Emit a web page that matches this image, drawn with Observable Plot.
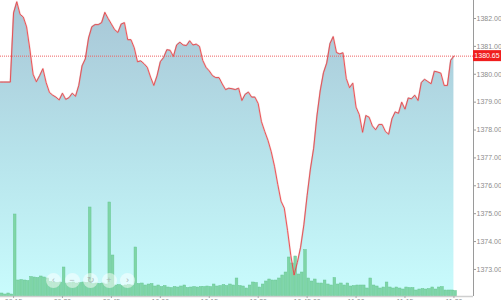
<!DOCTYPE html>
<html><head><meta charset="utf-8">
<script src="https://cdn.jsdelivr.net/npm/d3@7"></script>
<script src="https://cdn.jsdelivr.net/npm/@observablehq/plot@0.6"></script>
<style>
body{margin:0;background:#fff;overflow:hidden;font-family:"Liberation Sans",Arial,sans-serif}
#chart{position:relative;width:501px;height:300px;overflow:hidden}
#nav{position:absolute;left:46px;top:273px;display:flex;gap:3.5px}
#nav span{width:15px;height:15px;border-radius:50%;background:rgba(255,255,255,0.5);color:#a5b5b5;font-size:9px;line-height:15px;text-align:center}
</style>
</head><body><div id="chart"><div id="nav"></div></div>
<script>
// ---- data ----
const startTime = "09:11";
const endTime = "11:36";
const prices = [
1379.72,1379.72,1379.72,1379.72,
1382.2,1382.6,1382.15,1382.05,1381.7,1380.9,1380.0,1379.73,1379.95,1380.2,
1379.7,1379.35,1379.25,1379.18,1379.08,1379.32,1379.1,1379.16,1379.32,1379.21,
1379.6,1380.3,1380.55,1381.3,1381.7,1381.78,1381.78,1381.85,1382.22,1382.0,
1381.8,1381.6,1381.5,1381.8,1381.85,1381.24,1381.24,1380.95,1380.45,1380.48,
1380.38,1380.25,1379.9,1379.6,1379.95,1380.45,1380.6,1380.88,1380.86,1380.64,
1381.05,1381.15,1381.05,1381.03,1381.2,1381.05,1381.08,1381.0,1380.5,1380.25,
1380.12,1379.95,1379.88,1379.88,1379.65,1379.45,1379.5,1379.48,1379.45,1379.5,
1379.06,1379.28,1379.36,1379.18,1379.18,1378.95,1378.3,1377.95,1377.63,1377.22,
1376.7,1376.05,1375.45,1375.2,1374.4,1373.5,1372.8,1373.25,1373.8,1374.6,
1375.65,1376.6,1377.35,1378.5,1379.4,1380.05,1380.4,1381.1,1381.35,1380.78,
1380.73,1380.77,1379.85,1379.52,1379.68,1378.82,1378.55,1377.92,1378.52,1378.46,
1378.15,1378.01,1378.2,1378.2,1377.95,1377.85,1378.4,1378.65,1378.6,1379.0,
1378.75,1379.15,1379.12,1379.25,1379.06,1379.7,1379.82,1379.74,1379.66,1380.11,
1380.08,1380.04,1379.6,1379.6,1380.5,1380.65
];
const volumes = [
30,20,30,20,
820,160,165,160,155,195,190,185,200,190,180,
145,140,135,140,290,130,135,140,130,135,140,135,
890,125,130,125,130,120,940,410,110,115,105,110,115,110,
490,125,130,110,120,125,100,110,95,105,
90,85,95,90,100,110,85,90,95,90,95,95,100,95,
120,100,105,115,105,120,110,180,
105,100,80,110,140,135,90,120,150,170,160,160,180,210,240,
390,330,400,220,240,465,
180,150,170,130,130,160,120,110,
185,120,130,110,130,100,105,110,110,110,80,180,
110,100,80,90,140,90,80,90,80,70,90,85,85,60,70,75,70,75,90,70,90,95,60,60,60,55
];
const xTickTimes = ["09:15","09:30","09:45","10:00","10:15","10:30","10:45","11:00","11:15","11:30"];
const xTickLabels = ["09:15","09:30","09:45","10:00","10:15","10:30","10:45:00","11:00","11:15","11:30"];
const yTicks = [1373,1374,1375,1376,1377,1378,1379,1380,1381,1382];
const priceDomain = [1372.03, 1382.645];
const volumeAxisMax = 2960;
const lastPrice = 1380.65;
const navButtons = ["\u2039","\u2212","\u21BB","+","\u203A"];

// ---- build ----
const parse = s => { const [h, m] = s.split(":").map(Number); return new Date(Date.UTC(2020, 0, 6, h, m)); };
const t0 = parse(startTime);
const data = prices.map((p, i) => ({t: new Date(+t0 + i * 60000), t2: new Date(+t0 + (i + 1) * 60000), price: p, vol: volumes[i]}));
const xDomain = [parse(startTime), parse(endTime)];
const yLo = priceDomain[0];
const k = (priceDomain[1] - priceDomain[0]) / volumeAxisMax;
const labelOf = new Map(xTickTimes.map((s, i) => [+parse(s), xTickLabels[i]]));

const chart = Plot.plot({
  width: 501, height: 300,
  marginLeft: 0, marginRight: 28, marginTop: 0, marginBottom: 4,
  style: {fontFamily: "'Liberation Sans', Arial, sans-serif", fontSize: "7px", color: "#8c8c8c", background: "transparent", overflow: "visible"},
  x: {type: "utc", domain: xDomain, label: null},
  y: {domain: priceDomain, label: null},
  marks: [
    Plot.areaY(data, {x: "t", y1: yLo, y2: "price", fill: "url(#pxgrad)"}),
    Plot.rect(data, {x1: "t", x2: "t2", y1: yLo, y2: d => yLo + d.vol * k, fill: "#7fd5a7", stroke: "#68c794", strokeWidth: 0.5, insetLeft: 0.3, insetRight: 0.3}),
    Plot.ruleY([lastPrice], {stroke: "#f06060", strokeWidth: 1, strokeDasharray: "1,1"}),
    Plot.lineY(data, {x: "t", y: "price", stroke: "#f08080", strokeWidth: 2, strokeOpacity: 0.3}),
    Plot.lineY(data, {x: "t", y: "price", stroke: "#e8464a", strokeWidth: 0.9}),
    Plot.ruleY([yLo], {stroke: "#cfcfcf", strokeWidth: 1.5}),
    Plot.ruleX([xDomain[1]], {stroke: "#9a9a9a", strokeWidth: 1}),
    Plot.axisY(yTicks, {anchor: "right", label: null, tickSize: 2, tickPadding: 1, tickFormat: d3.format(".2f"), stroke: "#9a9a9a"}),
    Plot.axisX(xTickTimes.map(parse), {anchor: "bottom", label: null, tickSize: 2, tickPadding: 0.5, tickFormat: d => labelOf.get(+d), stroke: "#aaa"})
  ]
});

// gradient for the area
const svg = d3.select(chart);
const grad = svg.insert("defs", ":first-child").append("linearGradient")
  .attr("id", "pxgrad").attr("x1", 0).attr("y1", 0).attr("x2", 0).attr("y2", 1);
grad.append("stop").attr("offset", "0%").attr("stop-color", "#a8c6d6");
grad.append("stop").attr("offset", "50%").attr("stop-color", "#b6e2ea");
grad.append("stop").attr("offset", "100%").attr("stop-color", "#c9fcfd");

// last price label on the right axis
const ys = chart.scale("y"), xs = chart.scale("x");
const yy = ys.apply(lastPrice), xx = xs.apply(xDomain[1]);
const g = svg.append("g");
g.append("rect").attr("x", xx).attr("y", yy - 5.5).attr("width", 28).attr("height", 11).attr("fill", "#f01e1e");
g.append("text").attr("x", xx + 14).attr("y", yy).attr("dy", "0.35em").attr("text-anchor", "middle")
  .attr("fill", "#fff").attr("font-size", "7px").text(d3.format(".2f")(lastPrice));

const root = document.getElementById("chart");
root.insertBefore(chart, root.firstChild);
chart.style.position = "absolute"; chart.style.left = "0"; chart.style.top = "0";
const nav = document.getElementById("nav");
for (const b of navButtons) { const s = document.createElement("span"); s.textContent = b; nav.appendChild(s); }
</script>
</body></html>
